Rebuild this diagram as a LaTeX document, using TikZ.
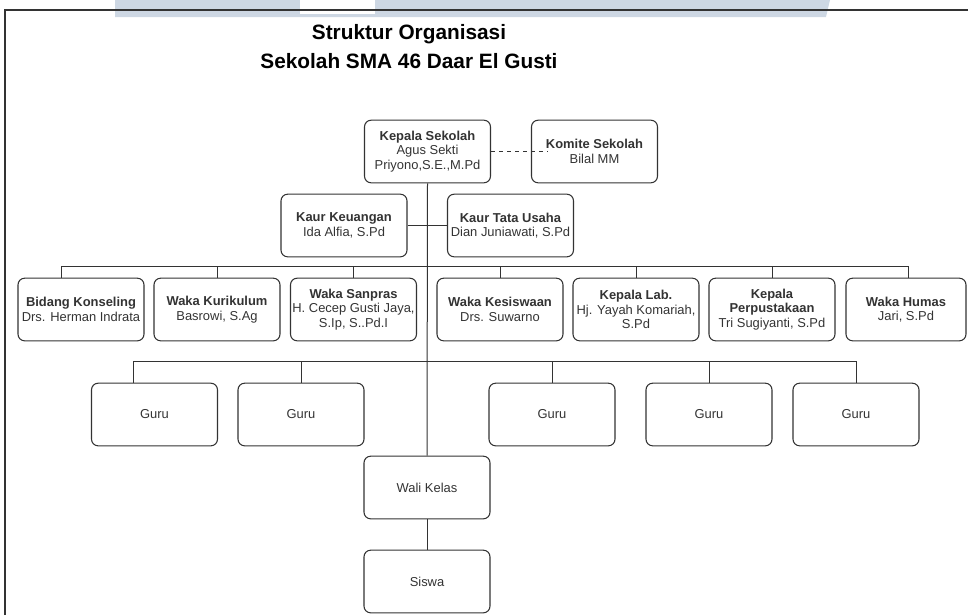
\documentclass[tikz,border=0pt]{standalone}
\usepackage{fontspec}
\setmainfont{Liberation Sans}
\definecolor{garis}{RGB}{51,51,51}
\definecolor{pita}{RGB}{205,215,227}

\begin{document}
\begin{tikzpicture}[x=0.75pt,y=-0.75pt,
        jabatan/.style={draw=garis, line width=0.8pt, rounded corners=5pt,
                minimum width=94.5pt, minimum height=47pt, inner sep=0pt,
                align=center, text=garis, font=\fontsize{9.7}{11}\selectfont},
        hubung/.style={draw=garis, line width=0.75pt}]
        \useasboundingbox (0,0) rectangle (968,615);
        % Band and frame
        \fill [pita] (115,0) -- (830,0) -- (826,17) -- (115,17) -- cycle;
        \fill [white] (300,0) rectangle (375,14);
        \draw [garis, line width=1.1pt] (5,615) -- (5,10) -- (968,10);
        % Title
        \node [align=center, font=\fontsize{15.6}{21.75}\selectfont\bfseries] (judul) at (409,47)
                {Struktur Organisasi\\Sekolah SMA 46 Daar El Gusti};
        % Top
        \node [jabatan] (kepsek) at (427.5,151.5) {\textbf{Kepala Sekolah}\\Agus Sekti\\Priyono,S.E.,M.Pd};
        \node [jabatan] (komite) at (594.5,151.5) {\textbf{Komite Sekolah}\\Bilal MM};
        \node [jabatan] (keuangan) at (344,225.5) {\textbf{Kaur Keuangan}\\Ida Alfia, S.Pd};
        \node [jabatan] (tatausaha) at (510.5,225.5) {\textbf{Kaur Tata Usaha}\\Dian Juniawati, S.Pd};
        % Waka row
        \node [jabatan] (konseling) at (81,309.5) {\textbf{Bidang Konseling}\\Drs. Herman Indrata};
        \node [jabatan] (kurikulum) at (217,309.5) {\textbf{Waka Kurikulum}\\Basrowi, S.Ag};
        \node [jabatan] (sanpras) at (353.5,309.5) {\textbf{Waka Sanpras}\\H. Cecep Gusti Jaya,\\S.Ip, S..Pd.I};
        \node [jabatan] (kesiswaan) at (500,309.5) {\textbf{Waka Kesiswaan}\\Drs. Suwarno};
        \node [jabatan] (lab) at (636,309.5) {\textbf{Kepala Lab.}\\Hj. Yayah Komariah,\\S.Pd};
        \node [jabatan] (perpus) at (772,309.5) {\textbf{Kepala}\\\textbf{Perpustakaan}\\Tri Sugiyanti, S.Pd};
        \node [jabatan, minimum width=90pt] (humas) at (906,309.5) {\textbf{Waka Humas}\\Jari, S.Pd};
        % Guru row
        \node [jabatan] (guru1) at (154.5,414.5) {Guru};
        \node [jabatan] (guru2) at (301,414.5) {Guru};
        \node [jabatan] (guru3) at (552,414.5) {Guru};
        \node [jabatan] (guru4) at (709,414.5) {Guru};
        \node [jabatan] (guru5) at (856,414.5) {Guru};
        \node [jabatan] (wali) at (427,487.5) {Wali Kelas};
        \node [jabatan] (siswa) at (427,581.5) {Siswa};
        % Lines
        \draw [hubung, dashed] (kepsek.east) -- ([xshift=13pt]komite.west);
        \draw [hubung] (kepsek.south) -- (wali.north);
        \draw [hubung] (keuangan.east) -- (tatausaha.west);
        \draw [hubung] ([xshift=-15pt]konseling.north) -- ++(0,-11) -| ([xshift=1.5pt]humas.north);
        \foreach \n in {kurikulum,sanpras,kesiswaan,lab,perpus}
                \draw [hubung] (\n.north) -- ++(0,-11);
        \draw [hubung] ([xshift=-16pt]guru1.north) -- ++(0,-21) -| (guru5.north);
        \foreach \n in {guru2,guru3,guru4}
                \draw [hubung] (\n.north) -- ++(0,-21);
        \draw [hubung] (wali.south) -- (siswa.north);
\end{tikzpicture}
\end{document}
